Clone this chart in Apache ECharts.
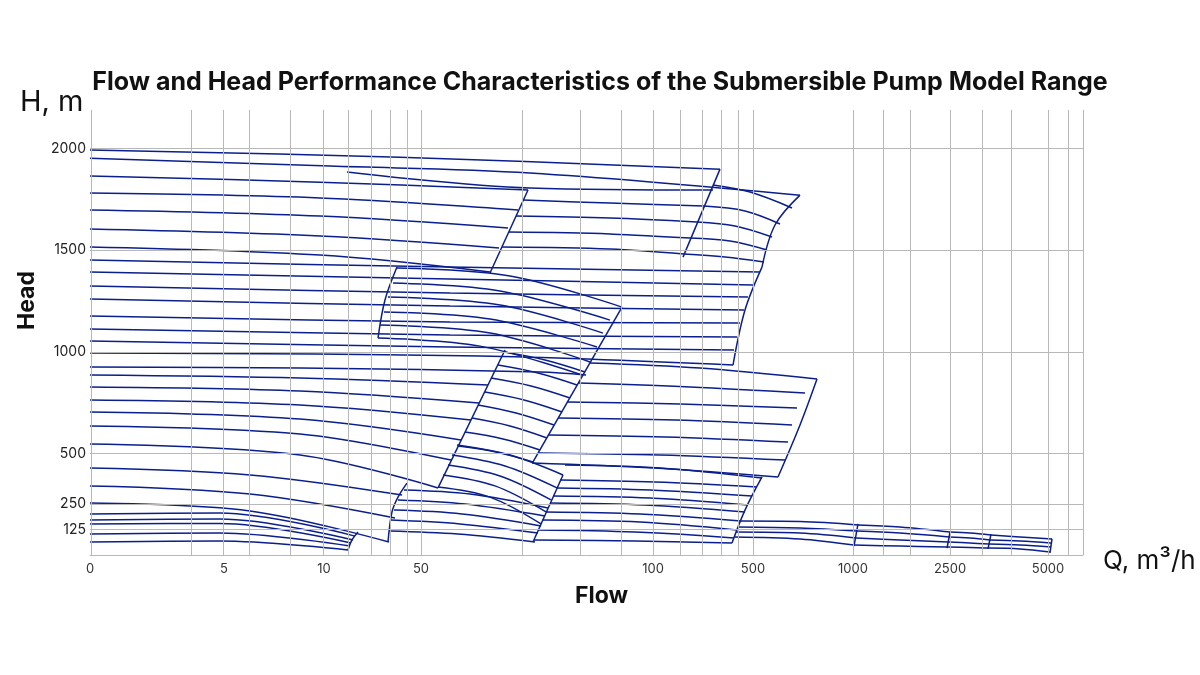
<!DOCTYPE html>
<html>
<head>
<meta charset="UTF-8">
<title>Flow and Head</title>
<script src="https://cdn.jsdelivr.net/npm/echarts@6/dist/echarts.min.js"></script>
<style>body{margin:0;background:#fff}</style>
</head>
<body>
<div id="main" style="width:1200px;height:675px;"></div>
<script>
// x is the position along the (segmented log) flow axis, y is head in m
var xTickPos = [0, 134, 234, 331, 563, 663, 763, 860, 958];
var xTickLabels = ['0', '5', '10', '50', '100', '500', '1000', '2500', '5000'];
var xGrid = [1, 101, 133, 159, 200, 233, 258, 281, 300, 317, 331, 432, 490, 531, 563, 590, 612, 631, 648, 663, 763, 793, 820, 860, 892, 921, 958, 978, 993];
var yTicks = [125, 250, 500, 1000, 1500, 2000];

// curve groups, each curve = [[x, head], ...]
var topCurves = [
  [[0,1993],[310,1958],[630,1899]],
  [[0,1953],[240,1914],[440,1880],[710,1771]]
];
var famA = [
  [[0,1865],[230,1835],[438,1796]],
  [[0,1781],[230,1757],[428,1698]],
  [[0,1698],[230,1668],[418,1609]],
  [[0,1604],[230,1570],[409,1511]],
  [[0,1516],[230,1476],[400,1393]]
];
var famB = [
  [[257,1885],[440,1806],[623,1796]],
  [[433,1747],[520,1732],[614,1717]],
  [[426,1668],[520,1658],[607,1639]],
  [[419,1589],[520,1580],[600,1560]],
  [[412,1516],[520,1506],[594,1481]]
];
var famC = [
  [[623,1821],[660,1786],[702,1708]],
  [[614,1717],[655,1693],[690,1629]],
  [[607,1639],[645,1619],[682,1565]],
  [[600,1560],[640,1545],[677,1501]],
  [[594,1481],[635,1466],[674,1442]]
];
var famL = [
  [[0,1452],[360,1417],[670,1393]],
  [[0,1393],[360,1358],[663,1329]],
  [[0,1324],[360,1289],[658,1270]],
  [[0,1260],[360,1225],[654,1206]],
  [[0,1176],[360,1147],[650,1142]],
  [[0,1112],[360,1083],[647,1073]],
  [[0,1053],[360,1024],[644,1009]],
  [[0,994],[390,979],[643,935]]
];
var famD = [
  [[307,1412],[420,1373],[532,1220]],
  [[303,1339],[410,1299],[520,1156]],
  [[298,1270],[410,1230],[513,1092]],
  [[294,1196],[400,1161],[507,1024]],
  [[290,1132],[400,1092],[500,950]],
  [[288,1068],[390,1028],[492,886]]
];
var famM = [
  [[0,925],[210,920],[450,901],[496,886]],
  [[0,886],[210,871],[398,837]],
  [[0,827],[210,807],[389,748]],
  [[0,763],[210,738],[381,664]],
  [[0,704],[210,669],[371,566]],
  [[0,635],[210,595],[361,467]],
  [[0,546],[210,492],[348,330]],
  [[0,428],[160,394],[312,295]],
  [[0,340],[160,300],[305,182]],
  [[0,256],[160,217],[299,64]]
];
var famH = [
  [[0,202],[130,207],[265,93]],
  [[0,172],[130,177],[263,74]],
  [[0,153],[130,155],[261,59]],
  [[0,103],[130,108],[260,44]],
  [[0,64],[130,69],[258,25]]
];
var famE = [
  [[414,999],[455,960],[495,901]],
  [[408,935],[448,896],[487,837]],
  [[401,871],[441,832],[480,773]],
  [[395,802],[434,763],[472,704]],
  [[388,738],[426,699],[464,640]],
  [[382,674],[420,635],[457,576]],
  [[375,605],[413,571],[450,517]],
  [[368,536],[406,507],[443,458]]
];
var famF = [
  [[500,945],[610,920],[727,866]],
  [[488,846],[600,827],[715,797]],
  [[477,753],[590,743],[707,723]],
  [[468,674],[585,664],[702,640]],
  [[458,591],[575,581],[698,556]],
  [[448,502],[570,492],[695,467]],
  [[442,453],[565,428],[688,384]]
];
var famJ = [
  [[367,541],[420,492],[473,394]],
  [[362,492],[415,438],[467,330]],
  [[358,443],[410,389],[461,271]],
  [[353,394],[405,340],[456,212]],
  [[348,335],[400,285],[451,153]]
];
var famI = [
  [[314,320],[380,300],[458,231]],
  [[308,271],[375,251],[455,192]],
  [[304,221],[372,202],[451,143]],
  [[301,172],[370,153],[448,108]],
  [[299,118],[368,103],[445,64]]
];
var famK = [
  [[475,443],[570,428],[672,379]],
  [[470,369],[565,359],[667,335]],
  [[467,330],[560,320],[662,290]],
  [[463,290],[560,280],[658,246]],
  [[460,256],[555,246],[655,212]],
  [[456,212],[550,202],[651,167]],
  [[452,172],[550,162],[647,123]],
  [[448,123],[545,113],[644,84]],
  [[444,74],[545,69],[642,59]]
];
var famR = [
  [[650,167],[710,165],[768,148]], [[648,138],[710,133],[767,118]],
  [[646,113],[710,108],[766,84]], [[645,89],[710,79],[764,49]],
  [[768,148],[810,138],[860,113]], [[767,118],[810,108],[859,89]],
  [[766,84],[810,74],[858,64]], [[764,49],[810,44],[857,39]],
  [[860,113],[880,108],[901,98]], [[859,89],[880,84],[900,74]],
  [[858,64],[880,59],[899,54]], [[857,39],[880,37],[898,34]],
  [[901,98],[930,89],[962,79]], [[900,74],[930,69],[961,59]],
  [[899,54],[930,49],[961,39]], [[898,34],[930,30],[960,15]]
];
// end boundaries of the model groups
var bounds = [
  [[438,1796],[400,1388]],
  [[630,1899],[593,1466]],
  [[710,1771],[685,1624],[672,1417]],
  [[672,1417],[655,1206],[643,935]],
  [[307,1417],[295,1255],[288,1068]],
  [[532,1220],[443,458]],
  [[415,1009],[348,330]],
  [[727,866],[710,640],[688,384]],
  [[317,354],[308,285],[302,212],[298,64]],
  [[268,113],[262,74],[258,25]],
  [[473,394],[443,64]],
  [[672,384],[655,221],[642,59]],
  [[768,153],[764,44]],
  [[860,113],[857,34]],
  [[901,103],[898,30]],
  [[962,79],[960,10]]
];

var blue = '#0a1f8c';
var series = [];
[topCurves, famA, famB, famC, famL, famD, famM, famH, famE, famF, famJ, famI, famK, famR, bounds].forEach(function (g) {
  g.forEach(function (c) {
    series.push({
      type: 'line', data: c, smooth: 0.35, symbol: 'none', silent: true,
      lineStyle: { color: blue, width: 1.5 }, z: 3
    });
  });
});
// grid lines
series.push({
  type: 'line', data: [], silent: true, z: 1,
  markLine: {
    silent: true, symbol: 'none', label: { show: false }, animation: false,
    lineStyle: { color: '#b8b8b8', width: 1, type: 'solid' },
    data: xGrid.map(function (v) { return { xAxis: v }; })
      .concat(yTicks.map(function (v) { return { yAxis: v }; }))
  }
});

var chart = echarts.init(document.getElementById('main'));
chart.setOption({
  animation: false,
  grid: { left: 90, right: 117, top: 110, bottom: 120 },
  xAxis: {
    type: 'value', min: 0, max: 993,
    axisLine: { lineStyle: { color: '#b8b8b8' } },
    axisTick: { show: false },
    splitLine: { show: false },
    axisLabel: {
      customValues: xTickPos, color: '#333', fontSize: 13, fontFamily: 'Inter', margin: 8,
      formatter: function (v) { var i = xTickPos.indexOf(v); return i < 0 ? '' : xTickLabels[i]; }
    }
  },
  yAxis: {
    type: 'value', min: 0, max: 2190,
    axisLine: { show: false }, axisTick: { show: false }, splitLine: { show: false },
    axisLabel: {
      customValues: yTicks, color: '#222', fontSize: 14, fontFamily: 'Inter', margin: 4,
      formatter: function (v) { return String(v); }
    }
  },
  graphic: [
    { type: 'text', left: 'center', top: 70, style: { text: 'Flow and Head Performance Characteristics of the Submersible Pump Model Range', font: 'bold 25px Inter', fill: '#111' } },
    { type: 'text', left: 20, top: 88, style: { text: 'H, m', font: '29px Inter', fill: '#111' } },
    { type: 'text', x: 16, y: 330, rotation: Math.PI / 2, style: { text: 'Head', font: 'bold 23px Inter', fill: '#111' } },
    { type: 'text', left: 575, top: 585, style: { text: 'Flow', font: 'bold 23px Inter', fill: '#111' } },
    { type: 'text', left: 1103, top: 548, style: { text: 'Q, m³/h', font: '26px Inter', fill: '#111' } }
  ],
  series: series
});
</script>
</body>
</html>
